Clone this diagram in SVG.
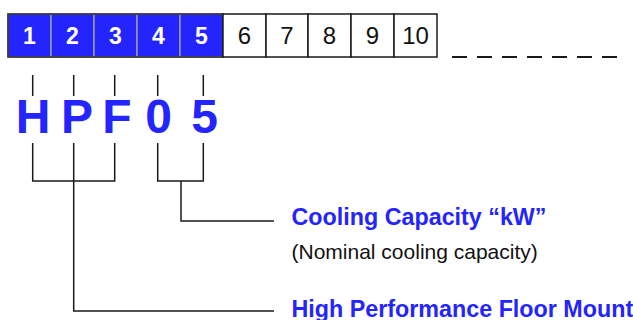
<svg xmlns="http://www.w3.org/2000/svg" width="633" height="320" viewBox="0 0 633 320">
  <style>
    .cell-blue { fill: #2424FF; stroke: #9a9a9a; stroke-width: 1.5; }
    .cell-white { fill: #ffffff; stroke: #1a1a1a; stroke-width: 1.5; }
    .digit-w { font-family: "Liberation Sans", Arial, sans-serif; font-size: 23px; font-weight: bold; fill: #ffffff; text-anchor: middle; }
    .digit-k { font-family: "Liberation Sans", Arial, sans-serif; font-size: 24px; fill: #111111; text-anchor: middle; }
    .code { font-family: "Liberation Sans", Arial, sans-serif; font-size: 48px; font-weight: bold; fill: #2424FF; text-anchor: middle; }
    .title { font-family: "Liberation Sans", Arial, sans-serif; font-size: 23.3px; font-weight: bold; fill: #2424FF; }
    .note { font-family: "Liberation Sans", Arial, sans-serif; font-size: 21px; fill: #111111; }
    .wire { fill: none; stroke: #1a1a1a; stroke-width: 1.5; }
  </style>

  <!-- code position cells -->
  <g id="cells">
    <g id="cell-1"><rect class="cell-blue" x="8" y="14" width="43" height="43"/><text class="digit-w" x="29.5" y="44">1</text></g>
    <g id="cell-2"><rect class="cell-blue" x="51" y="14" width="43" height="43"/><text class="digit-w" x="72.5" y="44">2</text></g>
    <g id="cell-3"><rect class="cell-blue" x="94" y="14" width="43" height="43"/><text class="digit-w" x="115.5" y="44">3</text></g>
    <g id="cell-4"><rect class="cell-blue" x="137" y="14" width="43" height="43"/><text class="digit-w" x="158.5" y="44">4</text></g>
    <g id="cell-5"><rect class="cell-blue" x="180" y="14" width="43" height="43"/><text class="digit-w" x="201.5" y="44">5</text></g>
    <!-- dark outline around the blue block -->
    <rect x="8" y="14" width="215" height="43" fill="none" stroke="#2a2a2a" stroke-width="1.5"/>
    <g id="cell-6"><rect class="cell-white" x="223" y="14" width="43" height="43"/><text class="digit-k" x="244.5" y="44">6</text></g>
    <g id="cell-7"><rect class="cell-white" x="266" y="14" width="42" height="43"/><text class="digit-k" x="287" y="44">7</text></g>
    <g id="cell-8"><rect class="cell-white" x="308" y="14" width="43" height="43"/><text class="digit-k" x="329.5" y="44">8</text></g>
    <g id="cell-9"><rect class="cell-white" x="351" y="14" width="43" height="43"/><text class="digit-k" x="372.5" y="44">9</text></g>
    <g id="cell-10"><rect class="cell-white" x="394" y="14" width="43" height="43"/><text class="digit-k" x="415.5" y="44">10</text></g>
  </g>

  <!-- continuation dashes -->
  <g id="continuation">
    <line x1="452" y1="57" x2="617" y2="57" stroke="#1a1a1a" stroke-width="2" stroke-dasharray="15 10"/>
  </g>

  <!-- model code letters -->
  <g id="code">
    <text class="code" x="33" y="133">H</text>
    <text class="code" x="77" y="133">P</text>
    <text class="code" x="117" y="133">F</text>
    <text class="code" x="158.7" y="133">0</text>
    <text class="code" x="204.7" y="133">5</text>
  </g>

  <!-- connectors -->
  <g id="connectors" class="wire">
    <path d="M32.7 75V96M73.7 75V96M114.7 75V96M157.7 75V96M203.3 75V96"/>
    <path d="M32.7 143V181H114.7V143M73.7 143V311H274"/>
    <path d="M157.7 143V181H203.3V143M181 181V221H274"/>
  </g>

  <!-- descriptions -->
  <g id="label-capacity">
    <text class="title" x="291.5" y="225">Cooling Capacity “kW”</text>
    <text class="note" x="291.5" y="258.5">(Nominal cooling capacity)</text>
  </g>
  <g id="label-type">
    <text class="title" x="291.5" y="317">High Performance Floor Mount</text>
  </g>
</svg>
